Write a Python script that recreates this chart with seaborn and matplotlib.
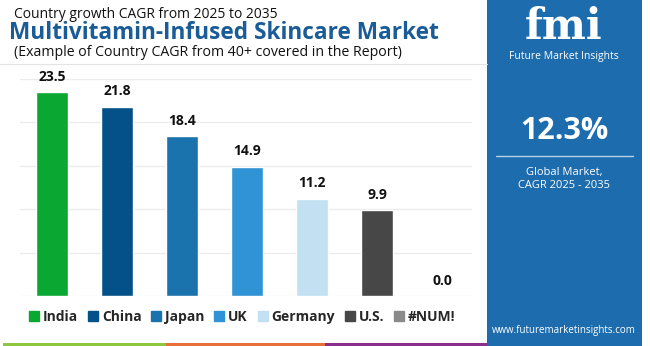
import matplotlib
matplotlib.use("Agg")
import matplotlib.pyplot as plt
from matplotlib.patches import Rectangle
from matplotlib.lines import Line2D
import seaborn as sns
import pandas as pd

countries = ["India", "China", "Japan", "UK", "Germany", "U.S.", "#NUM!"]
values = [23.5, 21.8, 18.4, 14.9, 11.2, 9.9, 0.0]
colors = ["#0aa832", "#045189", "#1b73ae", "#3093d5", "#c2e0f2", "#474747", "#8a8a8a"]
yticks = [0, 5, 10, 15, 20, 25]

title_top = "Country growth CAGR from 2025 to 2035"
title_main = "Multivitamin-Infused Skincare Market"
title_sub = "(Example of Country CAGR from 40+ covered in the Report)"
global_cagr = "12.3%"

sns.set_theme(style="white")
plt.rcParams["font.family"] = ["Open Sans", "DejaVu Sans"]

W, H = 650, 346
fig = plt.figure(figsize=(W / 100, H / 100), dpi=100)

def fx(px):
    return px / W

def fy(py):
    return 1 - py / H

# main axes: x from 20 to 472 px, y from 296 (0) to 79 (25)
ax = fig.add_axes([fx(20), fy(296), fx(472) - fx(20), fy(79) - fy(296)])
df = pd.DataFrame({"country": countries, "value": values})
sns.barplot(data=df, x="country", y="value", hue="country", palette=colors,
            width=0.49, legend=False, ax=ax, saturation=1)
ax.set_xlim(-0.49, 6.46)
ax.set_ylim(0, 25)
ax.set_yticks(yticks)
ax.yaxis.grid(True, color="#ececec", linewidth=1)
ax.set_axisbelow(True)
for s in ax.spines.values():
    s.set_visible(False)
ax.set_xticks([])
ax.set_yticklabels([])
ax.tick_params(left=False, bottom=False)
ax.set_xlabel("")
ax.set_ylabel("")
ax.patch.set_alpha(0)

for i, v in enumerate(values):
    ax.annotate(f"{v:.1f}", (i, v), xytext=(0, 6), textcoords="offset points",
                ha="center", va="bottom", fontsize=10, fontweight="bold", color="#111111")

# titles
fig.text(fx(14), fy(15), title_top, fontsize=10, color="#111111", va="center", ha="left")
fig.text(fx(9), fy(33), title_main, fontsize=16.3, fontweight="bold", color="#1a5c98",
         va="center", ha="left")
fig.text(fx(14), fy(52), title_sub, fontsize=10.2, color="#111111", va="center", ha="left")
fig.add_artist(Line2D([0, fx(487)], [fy(64), fy(64)], color="#e4e4e4", linewidth=0.8))

# legend
handles = [Line2D([0], [0], marker="s", linestyle="", markersize=7,
                  markerfacecolor=c, markeredgecolor=c) for c in colors]
leg = fig.legend(handles, countries, loc="center", bbox_to_anchor=(fx(242), fy(317)),
                 ncol=7, frameon=False, handletextpad=0.25, columnspacing=0.66,
                 handlelength=0.8, prop={"weight": "bold", "size": 10})

# bottom strip
for x0, x1, c in [(3, 166, "#8dc63f"), (166, 325, "#e8703a"), (325, 487, "#8b2f8c")]:
    fig.add_artist(Rectangle((fx(x0), 0), fx(x1) - fx(x0), 3 / H, color=c,
                             transform=fig.transFigure, linewidth=0))

# right panel
fig.add_artist(Rectangle((fx(487), 0), fx(642) - fx(487), 1, color="#1c6cae",
                         transform=fig.transFigure, linewidth=0))
cx = fx(564)
fig.text(cx, fy(27), "fmi", fontsize=30, fontweight="bold", color="white",
         ha="center", va="center", family=["DejaVu Serif"])
fig.text(cx, fy(56), "Future Market Insights", fontsize=7.5, color="white",
         ha="center", va="center")
fig.text(cx, fy(131), global_cagr, fontsize=22, fontweight="bold", color="white",
         ha="center", va="center")
fig.add_artist(Line2D([fx(496), fx(633)], [fy(156), fy(156)], color="#b9d3ea", linewidth=1))
fig.text(cx, fy(172), "Global Market,", fontsize=8, color="white", ha="center", va="center")
fig.text(cx, fy(186), "CAGR 2025 - 2035", fontsize=8, color="white", ha="center", va="center")
fig.text(cx, fy(331), "www.futuremarketinsights.com", fontsize=7, color="white",
         ha="center", va="center")

fig.savefig("out.png", dpi=100)
